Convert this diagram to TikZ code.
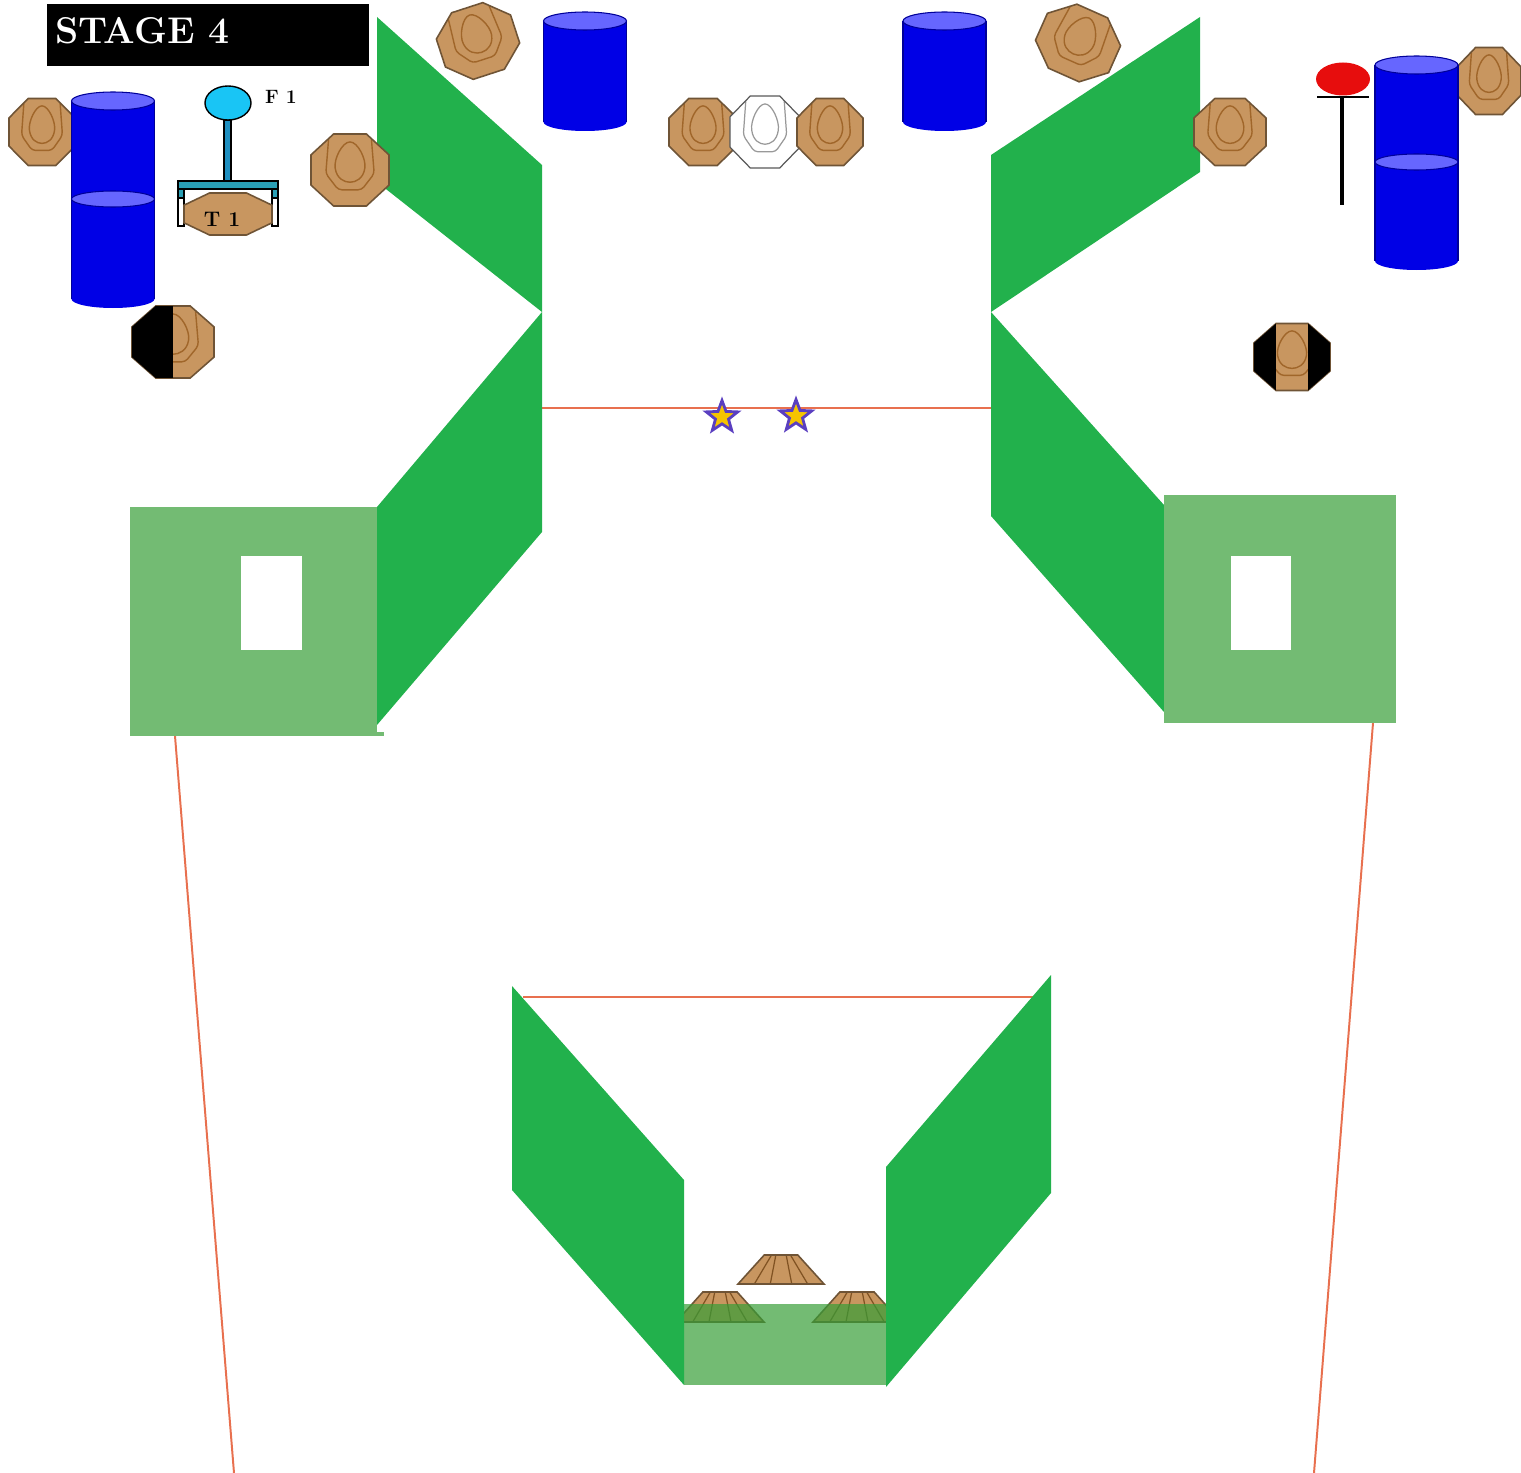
\documentclass[tikz,border=0pt]{standalone}
\usepackage{tikz}
\usetikzlibrary{shapes.geometric, positioning}
\definecolor{panelgreen}{HTML}{22B14C}
\definecolor{floorgreen}{HTML}{73BB73}
\definecolor{seethrough}{HTML}{379E37}
\definecolor{tan}{HTML}{C89660}
\definecolor{tanedge}{HTML}{6F5436}
\definecolor{tanline}{HTML}{A0662A}
\definecolor{drumblue}{HTML}{0000E6}
\definecolor{drumtop}{HTML}{6666FF}
\definecolor{rope}{HTML}{E8704F}
\definecolor{rodblue}{HTML}{1F8FC0}
\definecolor{barblue}{HTML}{2A9FB5}
\definecolor{ballblue}{HTML}{19C5F5}
\definecolor{starfill}{HTML}{F5C400}
\definecolor{staredge}{HTML}{5A3FC0}
\newcommand{\octpath}{(-.42,-1) -- (.42,-1) -- (1,-.42) -- (1,.42) -- (.42,1) -- (-.42,1) -- (-1,.42) -- (-1,-.42) -- cycle}
\newcommand{\ringpath}{(-.55,-.85) -- (-.62,.1) -- (-.3,.55) -- (.3,.55) -- (.62,.1) -- (.55,-.85)}
\newcommand{\droppath}{(0,-.78) .. controls (.2,-.78) and (.42,-.3) .. (.38,-.05) .. controls (.34,.24) and (.15,.34) .. (0,.34) .. controls (-.15,.34) and (-.34,.24) .. (-.38,-.05) .. controls (-.42,-.3) and (-.2,-.78) .. (0,-.78) -- cycle}
\newcommand{\drum}[3]{
    \fill[drumblue] (#1,#3-9) ellipse [x radius=41.5, y radius=9];
    \fill[drumblue] (#1-41.5,#2) rectangle (#1+41.5,#3-9);
    \draw[drumedge] (#1-41.5,#2) -- (#1-41.5,#3-9);
    \draw[drumedge] (#1+41.5,#2) -- (#1+41.5,#3-9);
}
\tikzset{
    panel/.style={fill=panelgreen},
    floorbox/.style={fill=floorgreen},
    redline/.style={rope, line width=1.5pt*0.75},
    drumedge/.style={draw=black!40!blue, line width=0.6pt},
    drumlid/.style={fill=drumtop, draw=black!40!blue, line width=0.6pt},
    starnode/.style={star, star points=5, star point ratio=2.4, draw=staredge, fill=starfill, line width=1.6pt, minimum size=33*0.02cm, inner sep=0pt},
    target/.pic={
        \fill[tan] \octpath;
        \draw[tanline, line width=0.8pt, rounded corners=2pt] \ringpath;
        \draw[tanline, line width=0.8pt] \droppath;
        \draw[tanedge, line width=0.9pt] \octpath;
    },
    plaintarget/.pic={
        \fill[tan] \octpath;
        \draw[tanedge, line width=0.9pt] \octpath;
    },
    whitetarget/.pic={
        \fill[white] \octpath;
        \draw[black!40, line width=0.7pt, rounded corners=2pt] \ringpath;
        \draw[black!40, line width=0.7pt] \droppath;
        \draw[black!65, line width=0.7pt] \octpath;
    },
    halfblack/.pic={
        \begin{scope}
            \clip \octpath;
            \fill[black] (-1,-1) rectangle (0,1);
        \end{scope}
    },
    sideblack/.pic={
        \begin{scope}
            \clip \octpath;
            \fill[black] (-1,-1) rectangle (-.42,1);
            \fill[black] (.42,-1) rectangle (1,1);
        \end{scope}
    },
    lowtarget/.pic={
        \fill[tan] (-1,0) -- (-.39,-1) -- (.39,-1) -- (1,0) -- cycle;
        \draw[tanline!80!black, line width=0.7pt] (-.62,0) -- (-.22,-1) (-.25,0) -- (-.12,-1) (.25,0) -- (.12,-1) (.62,0) -- (.22,-1);
        \draw[tanedge, line width=0.9pt] (-1,0) -- (-.39,-1) -- (.39,-1) -- (1,0) -- cycle;
    }
}

\begin{document}
\begin{tikzpicture}[x=0.02cm, y=-0.02cm]
    \useasboundingbox (0,0) rectangle (1521,1473);
    \coordinate (midL) at (542,408);
    \coordinate (midR) at (991,408);
    \coordinate (farL) at (175,736);
    \coordinate (nearL) at (234,1473);
    \coordinate (farR) at (1373,723);
    \coordinate (nearR) at (1314,1473);
    \coordinate (backL) at (523,997);
    \coordinate (backR) at (1033,997);

    \draw[redline] (midL) -- (midR);
    \draw[redline] (farL) -- (nearL);
    \draw[redline] (farR) -- (nearR);
    \draw[redline] (backL) -- (backR);

    \node[starnode] (star1) at (722,417) {};
    \node[starnode] (star2) at (796,416) {};

    \node[fill=black, minimum width=322*0.02cm, minimum height=62*0.02cm, inner sep=0pt] (title) at (208,35) {};
    \node[right=0pt of title.west, xshift=8*0.02cm, yshift=4*0.02cm, inner sep=0pt, text=white, font=\bfseries\fontsize{21.2}{22}\selectfont] (titletext) {STAGE 4};

    \fill[panel] (377,17) -- (542,165) -- (542,312) -- (377,182) -- cycle;
    \fill[panel] (542,312) -- (542,532) -- (377,725) -- (377,507) -- cycle;
    \fill[panel] (1200,17) -- (1200,172) -- (991,312) -- (991,155) -- cycle;
    \fill[panel] (991,312) -- (1164,505) -- (1164,712) -- (991,516) -- cycle;

    \fill[floorbox] (130,507) rectangle (377,736);
    \fill[floorbox] (377,732) rectangle (384,736);
    \fill[white] (241,556) rectangle (302,650);
    \fill[floorbox] (1164,495) rectangle (1396,723);
    \fill[white] (1231,556) rectangle (1291,650);

    \pic[xscale=44, yscale=30] at (720,1322) {lowtarget};
    \pic[xscale=44, yscale=30] at (857,1322) {lowtarget};
    \pic[xscale=43, yscale=29] at (781,1284) {lowtarget};
    \fill[seethrough, opacity=0.7] (684,1304) rectangle (886,1385);
    \fill[panel] (512,986) -- (684,1180) -- (684,1385) -- (512,1190) -- cycle;
    \fill[panel] (1051,975) -- (1051,1193) -- (886,1387) -- (886,1167) -- cycle;

    \pic[xscale=33, yscale=33.5] at (42,132) {target};
    \pic[xscale=39, yscale=36] at (350,170) {target};
    \pic[rotate=18, xscale=39, yscale=35] at (478,41) {target};
    \pic[rotate=-24, xscale=40, yscale=35] at (1078,43) {target};
    \pic[xscale=34, yscale=33.5] at (703,132) {target};
    \pic[xscale=35, yscale=36] at (765,132) {whitetarget};
    \pic[xscale=33, yscale=33.5] at (830,132) {target};
    \pic[xscale=36, yscale=33.5] at (1230,132) {target};
    \pic[xscale=32, yscale=33.5] at (1489,81) {target};
    \pic[xscale=41, yscale=36] at (173,342) {target};
    \pic[xscale=41, yscale=36] at (173,342) {halfblack};
    \pic[xscale=38, yscale=33.5] at (1292,357) {target};
    \pic[xscale=38, yscale=33.5] at (1292,357) {sideblack};

    \drum{585}{21}{131}
    \draw[drumlid] (585,21) ellipse [x radius=41.5, y radius=9];
    \drum{944.5}{21}{131}
    \draw[drumlid] (944.5,21) ellipse [x radius=41.5, y radius=9];
    \drum{113}{101}{308}
    \draw[drumlid] (113,101) ellipse [x radius=41.5, y radius=9];
    \draw[drumlid] (113,199) ellipse [x radius=41.5, y radius=8];
    \drum{1416.5}{65}{270}
    \draw[drumlid] (1416.5,65) ellipse [x radius=41.5, y radius=9];
    \draw[drumlid] (1416.5,162) ellipse [x radius=41.5, y radius=8];

    \draw[black, fill=white, line width=1.1pt] (178,197) rectangle (184,226);
    \draw[black, fill=white, line width=1.1pt] (272,197) rectangle (278,226);
    \pic[xscale=44, yscale=21] at (228,214) {plaintarget};
    \draw[black, fill=barblue, line width=1.1pt] (178,181) rectangle (278,189);
    \draw[black, fill=barblue, line width=1.1pt] (178,189) rectangle (184,198);
    \draw[black, fill=barblue, line width=1.1pt] (272,189) rectangle (278,198);
    \draw[black, fill=rodblue, line width=0.8pt] (224,120) rectangle (231,181);
    \node[ellipse, draw, fill=ballblue, line width=0.8pt, minimum width=46*0.02cm, minimum height=34*0.02cm, inner sep=0pt] (ball) at (228,103) {};
    \node[right=13*0.02cm of ball, yshift=6*0.02cm, inner sep=0pt, font=\bfseries\fontsize{11}{12}\selectfont] (flabel) {F 1};
    \node[inner sep=0pt, font=\bfseries\fontsize{12}{13}\selectfont] (tlabel) at (222,219) {T 1};

    \node[ellipse, fill=red!90!black!95!white, minimum width=54*0.02cm, minimum height=33*0.02cm, inner sep=0pt] (popper) at (1343,79) {};
    \coordinate (barL) at (1317,97);
    \coordinate (barR) at (1369,97);
    \coordinate (foot) at (1342,205);
    \draw[line width=1.7pt] (barL) -- (barR);
    \draw[line width=2.3pt] (1342,97) -- (foot);
\end{tikzpicture}
\end{document}
